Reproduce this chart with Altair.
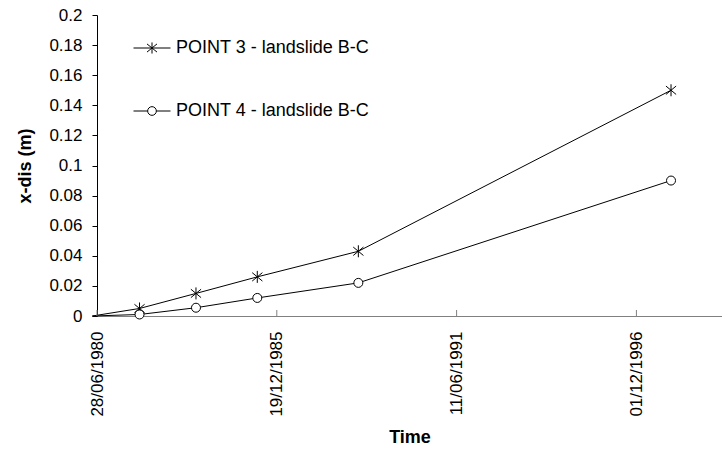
import altair as alt
import pandas as pd

# ---- data ----
dates = ["1980-05-07", "1981-10-14", "1983-07-04", "1985-05-16", "1988-06-13", "1997-12-21"]
point3 = [0.0, 0.005, 0.015, 0.026, 0.043, 0.150]
point4 = [0.0, 0.001, 0.0055, 0.012, 0.022, 0.090]
has_marker = [False, True, True, True, True, True]
series_names = ["POINT 3 - landslide B-C", "POINT 4 - landslide B-C"]
tick_dates = ["1980-06-28", "1985-12-19", "1991-06-11", "1996-12-01"]
y_ticks = [0, 0.02, 0.04, 0.06, 0.08, 0.1, 0.12, 0.14, 0.16, 0.18, 0.2]

rows = []
for name, vals in zip(series_names, [point3, point4]):
    for d, v, m in zip(dates, vals, has_marker):
        rows.append({"date": d, "value": v, "series": name, "marker": m})
df = pd.DataFrame(rows)
ticks_df = pd.DataFrame({"date": tick_dates})

FONT = "Arial, Liberation Sans"
W, H = 625, 301

star = "M0,-1V1M-0.85,-0.7L0.85,0.7M-0.85,0.7L0.85,-0.7"
circ = "M0.75,0A0.75,0.75 0 1,1 -0.75,0A0.75,0.75 0 1,1 0.75,0Z"
leg_star = "M-1,0L1,0M0,-0.3L0,0.3M-0.27,-0.22L0.27,0.22M-0.27,0.22L0.27,-0.22"
leg_circ = ("M-1,0L-0.235,0M0.235,0L1,0"
            "M0.235,0A0.235,0.235 0 1,1 -0.235,0A0.235,0.235 0 1,1 0.235,0Z")

xscale = alt.Scale(
    type="utc",
    domain=[alt.DateTime(year=1980, month=6, date=28, utc=True),
            alt.DateTime(year=1999, month=7, date=11, utc=True)],
)
xaxis = alt.Axis(
    values=[alt.DateTime(year=int(t[:4]), month=int(t[5:7]), date=int(t[8:]), utc=True) for t in tick_dates],
    labelExpr="utcFormat(datum.value, '%d/%m/%Y')",
    labelAngle=270, labelFontSize=17, labelFont=FONT, labelColor="black",
    labelPadding=15, labelOverlap=False, ticks=False, grid=False,
    domainColor="#808080", domainWidth=1,
    title="Time", titleFont=FONT, titleFontSize=18, titleFontWeight="bold",
    titleColor="black", titlePadding=12,
)
yscale = alt.Scale(domain=[0, 0.2], nice=False, zero=True)
yaxis = alt.Axis(
    values=y_ticks, format="~g", labelOverlap=False,
    labelFontSize=17, labelFont=FONT, labelColor="black", labelPadding=10,
    tickSize=5, tickColor="black", domainColor="black", grid=False,
    title="x-dis (m)", titleFont=FONT, titleFontSize=18, titleFontWeight="bold",
    titleColor="black", titlePadding=14,
)

X = alt.X("date:T", scale=xscale, axis=xaxis)
Y = alt.Y("value:Q", scale=yscale, axis=yaxis)

base = alt.Chart(df)

lines = base.mark_line(color="black", strokeWidth=1, clip=False).encode(
    x=X, y=Y, detail="series:N",
)

points = base.transform_filter("datum.marker").mark_point(
    fill="white", stroke="black", strokeWidth=1, opacity=1, filled=False, size=144
).encode(
    x=X, y=Y,
    shape=alt.Shape("series:N", scale=alt.Scale(domain=series_names, range=[star, circ]), legend=None),
)

legend_layer = base.transform_filter("false").mark_point(
    color="black", filled=False, strokeWidth=1, opacity=1
).encode(
    x=X, y=Y,
    shape=alt.Shape(
        "series:N",
        scale=alt.Scale(domain=series_names, range=[leg_star, leg_circ]),
        legend=alt.Legend(
            title=None, orient="none", legendX=36, legendY=14,
            labelFont=FONT, labelFontSize=18, labelColor="black", labelLimit=400,
            labelOffset=5, symbolSize=1369, symbolStrokeColor="black",
            symbolStrokeWidth=1, rowPadding=35, padding=0,
        ),
    ),
)

tick_marks = alt.Chart(ticks_df).mark_rule(color="#808080", strokeWidth=1).encode(
    x=X,
    y=alt.YDatum(0, scale=yscale, axis=yaxis),
    y2=alt.datum(0.004),
)

chart = alt.layer(lines, tick_marks, points, legend_layer).resolve_scale(
    shape="independent"
).properties(
    width=W, height=H,
    autosize=alt.AutoSizeParams(type="none"),
    padding={"left": 97, "top": 15, "right": 0, "bottom": 133},
    background="white",
).configure_view(stroke=None)

chart.save("out.html", embed_options={"renderer": "svg", "actions": False})
